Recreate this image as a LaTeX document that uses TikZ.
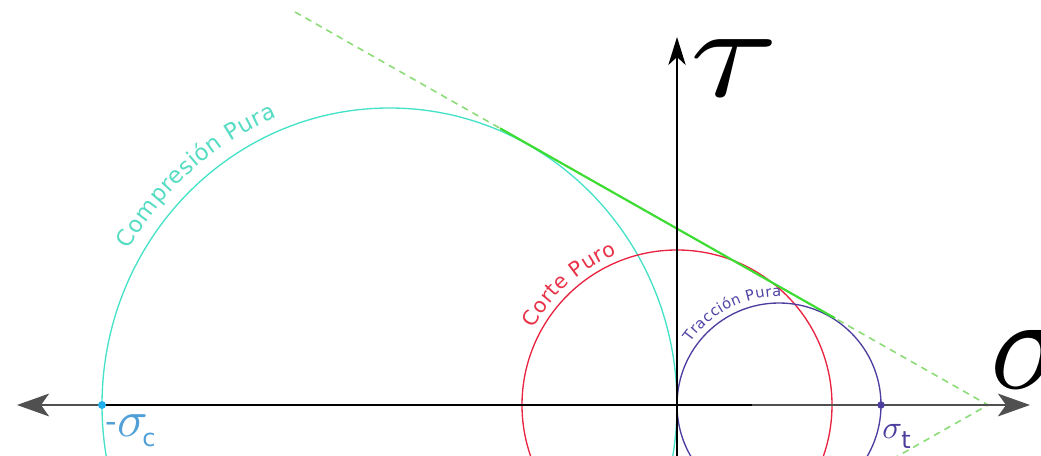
\documentclass[tikz,border=0pt]{standalone}
\usepackage{fontspec}
\newfontfamily\djv{DejaVu Sans}
\usepackage{graphicx}
\usetikzlibrary{arrows.meta,decorations.text}
\definecolor{cyanc}{RGB}{70,226,200}
\definecolor{cyant}{RGB}{85,220,195}
\definecolor{redc}{RGB}{232,36,64}
\definecolor{redt}{RGB}{232,50,72}
\definecolor{purc}{RGB}{75,62,158}
\definecolor{purt}{RGB}{80,68,165}
\definecolor{greens}{RGB}{60,220,50}
\definecolor{greend}{RGB}{140,220,120}
\definecolor{bluesc}{RGB}{80,160,215}
\definecolor{bluedot}{RGB}{34,176,236}
\definecolor{axgray}{RGB}{80,80,80}
\newcommand\compfmt{\djv\fontsize{17}{17}\selectfont\color{cyant}}
\newcommand\cortefmt{\djv\fontsize{15.5}{15.5}\selectfont\color{redt}}
\newcommand\tracfmt{\djv\fontsize{11}{11}\selectfont\color{purt}}
\tikzset{
  circ/.style={line width=1pt},
  axisline/.style={line width=2pt},
  lab/.style={inner sep=0pt, anchor=base west},
  bigtip/.tip={Stealth[length=24pt,width=17pt,inset=6pt]},
  vtip/.tip={Stealth[length=21pt,width=13pt,inset=6pt]},
  envdash/.style={greend, line width=1.2pt, dash pattern=on 5pt off 4pt},
  envsolid/.style={greens, line width=1.6pt},
}
\begin{document}
\begin{tikzpicture}[x=0.75pt, y=-0.75pt]
\useasboundingbox (0,0) rectangle (1041,456);
% key points
\coordinate (O) at (677,405);
\coordinate (Cc) at (389.5,405);
\coordinate (Ct) at (779,405);
\coordinate (A) at (988,405);
\coordinate (gu) at (295,12);
\coordinate (gl) at (875,469);
\coordinate (g1) at (500,128.3);
\coordinate (g2) at (835,318.2);
\coordinate (sc) at (102,405);
\coordinate (st) at (881,405);
\coordinate (xl) at (17,405);
\coordinate (xr) at (1030,405);
\coordinate (mk) at (752,405);
\coordinate (yb) at (677,470);
\coordinate (yt) at (677,37);
% circles
\draw[circ, cyanc] (Cc) ellipse[x radius=215.625pt, y radius=222.75pt];
\draw[circ, redc] (O) circle[radius=116.25pt];
\draw[circ, purc] (Ct) circle[radius=76.5pt];
% labels along circles
\path[decorate, decoration={text along path, text={|\compfmt|Compresión Pura}, raise=10pt}]
  (Cc) ++(150:215.625pt and 222.75pt) arc[start angle=150, end angle=70, x radius=215.625pt, y radius=222.75pt];
\path[decorate, decoration={text along path, text={|\cortefmt|Corte Puro}, raise=5.5pt}]
  (O) ++(152:116.25pt) arc[start angle=152, end angle=60, radius=116.25pt];
\path[decorate, decoration={text along path, text={|\tracfmt|Tracción Pura}, raise=5pt}]
  (Ct) ++(145:76.5pt) arc[start angle=145, end angle=20, radius=76.5pt];
% envelope
\draw[envdash] (gu) -- (A) -- (gl);
\draw[envsolid] (g1) -- (g2);
% axes
\draw[axgray, axisline, bigtip-bigtip] (xl) -- (xr);
\draw[black, axisline] (sc) -- (mk);
\draw[black, line width=1.5pt, -vtip] (yb) -- (yt);
% points
\fill[bluedot] (sc) circle[radius=3pt];
\fill[purc] (st) circle[radius=2.8pt];
% axis labels
\node[lab] (tau) at (690,97) {\scalebox{12}[9.9]{$\tau$}};
\node[lab] (sig) at (990,388) {\scalebox{10.1}{$\sigma$}};
% -sigma_c
\node[inner sep=0pt, text=bluesc, font=\djv\fontsize{24}{24}\selectfont] (minus) at (111,427) {-};
\node[lab, text=bluesc] (sigc) at (117,436) {\scalebox{3.8}{$\sigma$}};
\node[lab, text=bluesc, font=\djv\fontsize{18}{18}\selectfont] (csub) at (142,446) {c};
% sigma_t
\node[lab, text=purc] (sigt) at (882,438) {\scalebox{2.45}{$\sigma$}};
\node[lab, text=purc, font=\djv\fontsize{18}{18}\selectfont] (tsub) at (901,448) {t};
\end{tikzpicture}
\end{document}
